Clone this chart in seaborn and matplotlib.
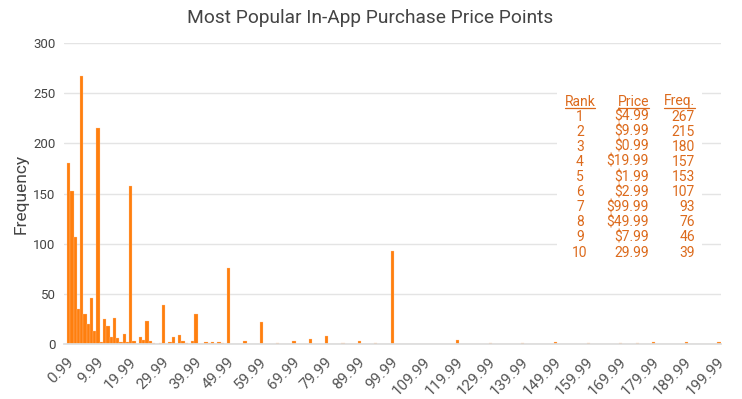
import numpy as np
import pandas as pd
import matplotlib
matplotlib.use("Agg")
import matplotlib.pyplot as plt
import seaborn as sns
from matplotlib.lines import Line2D

# price points (USD) and how many in-app purchases use them
prices = [0.99, 1.99, 2.99, 3.99, 4.99, 5.99, 6.99, 7.99, 8.99, 9.99,
          10.99, 11.99, 12.99, 13.99, 14.99, 15.99, 16.99, 17.99, 18.99, 19.99,
          20.99, 22.99, 23.99, 24.99, 25.99, 26.99, 28.99, 29.99,
          31.99, 32.99, 34.99, 35.99, 36.99, 38.99, 39.99,
          42.99, 43.99, 44.99, 46.99, 47.99, 49.99,
          54.99, 59.99, 64.99, 69.99, 74.99, 79.99, 84.99, 89.99, 94.99, 99.99,
          119.99, 129.99, 139.99, 149.99, 159.99, 169.99, 174.99, 179.99,
          189.99, 199.99]
freqs = [180, 153, 107, 35, 267, 30, 20, 46, 13, 215,
         2, 25, 18, 7, 26, 6, 2, 10, 2, 157,
         3, 7, 4, 23, 3, 1, 1, 39,
         2, 7, 9, 3, 1, 3, 30,
         2, 1, 2, 2, 1, 76,
         3, 22, 1, 3, 5, 8, 1, 3, 1, 93,
         4, 1, 1, 2, 1, 1, 1, 2,
         2, 2]

tick_values = [0.99, 9.99, 19.99, 29.99, 39.99, 49.99, 59.99, 69.99, 79.99,
               89.99, 99.99, 109.99, 119.99, 129.99, 139.99, 149.99, 159.99,
               169.99, 179.99, 189.99, 199.99]
tick_labels = ["0.99", "9.99", "19.99", "29.99", "39.99", "49.99", "59.99",
               "69.99", "79.99", "89.99", "99.99", "109.99", "119.99", "129.99",
               "139.99", "149.99", "159.99", "169.99", "179.99", "189.99",
               "199.99"]

# top 10 table (as printed on the chart)
top_rank = ["1", "2", "3", "4", "5", "6", "7", "8", "9", "10"]
top_price = ["$4.99", "$9.99", "$0.99", "$19.99", "$1.99", "$2.99",
             "$99.99", "$49.99", "$7.99", "29.99"]
top_freq = ["267", "215", "180", "157", "153", "107", "93", "76", "46", "39"]

df = pd.DataFrame({"price": prices, "freq": freqs})

sns.set_theme(style="whitegrid")
plt.rcParams["font.family"] = ["Roboto", "DejaVu Sans"]

bar_color = "#ff7f0e"
table_color = "#dc6a1c"

fig = plt.figure(figsize=(7.42, 3.99), dpi=100)
ax = fig.add_axes([0.086, 0.138, 0.886, 0.754])

sns.histplot(data=df, x="price", weights="freq", binwidth=1.0,
             binrange=(0.985, 200.985), color=bar_color, alpha=1,
             edgecolor="#ffc8a0", linewidth=0.2, ax=ax)

ax.set_xlim(0.0, 201.2)
ax.set_ylim(0, 300)
ax.set_yticks([0, 50, 100, 150, 200, 250, 300])
ax.set_xticks(tick_values)
ax.set_xticklabels(tick_labels, rotation=45, ha="right",
                   rotation_mode="anchor", fontsize=11, color="#555555")
ax.tick_params(axis="y", labelsize=9.5, labelcolor="#444444", length=0, pad=6)
ax.tick_params(axis="x", length=0, pad=8)
ax.grid(axis="x", visible=False)
ax.grid(axis="y", color="#e4e4e4", linewidth=1)
for side in ["left", "right", "top"]:
    ax.spines[side].set_visible(False)
ax.spines["bottom"].set_color("#dddddd")
ax.set_xlabel("")
ax.set_ylabel("Frequency", fontsize=12.5, color="#444444", labelpad=3)

fig.text(0.499, 1 - 18 / 399, "Most Popular In-App Purchase Price Points",
         ha="center", va="center", fontsize=13.8, color="#444444")

# white box holding the top-10 table (1 data unit = 1 pixel)
tab = fig.add_axes([557 / 742, 1 - 262 / 399, 145 / 742, 174 / 399])
tab.set_facecolor("white")
tab.set_xticks([])
tab.set_yticks([])
tab.grid(False)
for s in tab.spines.values():
    s.set_visible(False)
tab.set_xlim(557, 702)
tab.set_ylim(262, 88)

col_x = [(580, "center"), (649, "right"), (695, "right")]
headers = ["Rank", "Price", "Freq."]
head_y = 101.5
head_texts = []
for (x, ha), h in zip(col_x, headers):
    head_texts.append(tab.text(x, head_y, h, ha=ha, va="center",
                               fontsize=10, color=table_color))
for i in range(len(top_rank)):
    y = 116.7 + i * 15.1
    for (x, ha), col in zip(col_x, [top_rank, top_price, top_freq]):
        tab.text(x, y, col[i], ha=ha, va="center", fontsize=10,
                 color=table_color)

# underline the headers
fig.canvas.draw()
inv = tab.transData.inverted()
for t in head_texts:
    bb = t.get_window_extent()
    x0, _ = inv.transform((bb.x0, bb.y0))
    x1, _ = inv.transform((bb.x1, bb.y0))
    tab.add_line(Line2D([x0, x1], [head_y + 6.2, head_y + 6.2],
                        color=table_color, linewidth=0.9))

fig.savefig("out.png", dpi=100)
